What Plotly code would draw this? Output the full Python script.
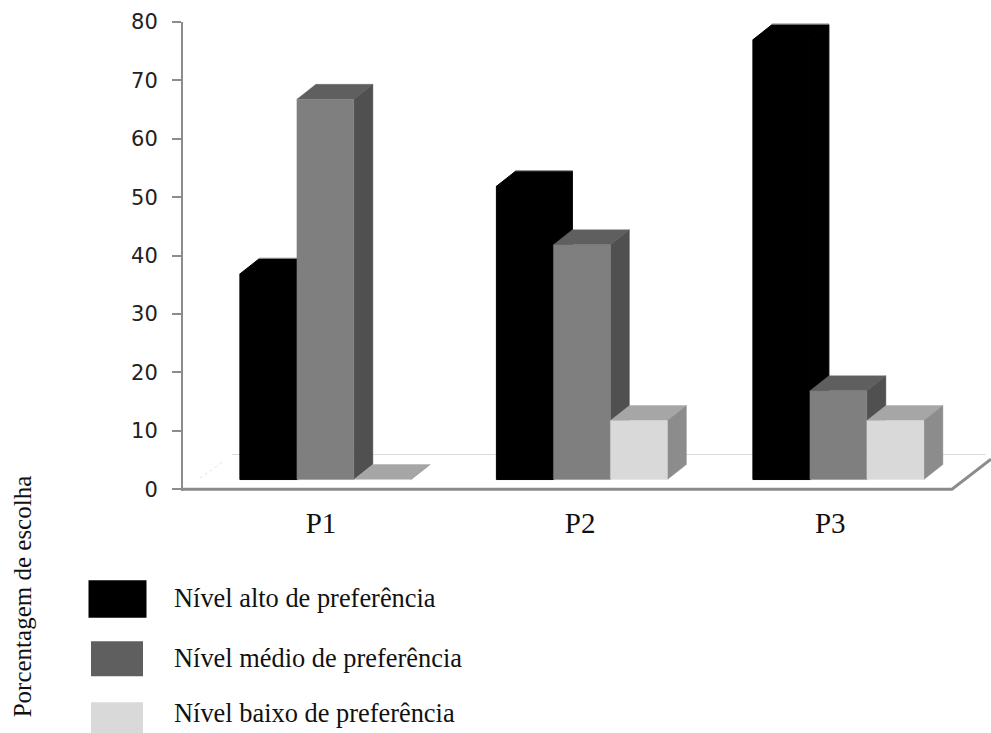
import plotly.graph_objects as go

# ---- data ----
categories = ["P1", "P2", "P3"]
series_names = ["Nível alto de preferência", "Nível médio de preferência", "Nível baixo de preferência"]
alto = [35.2, 50.2, 75.3]
medio = [65.1, 40.2, 15.2]
baixo = [0, 10.1, 10.1]
y_ticks = [0, 10, 20, 30, 40, 50, 60, 70, 80]
y_title = "Porcentagem de escolha"

# ---- styling / projection ----
W, H = 991, 733
PX_PER_UNIT = (489 - 22) / 80
Y_MIN = -0.3
L, R, T, B = 183, 991, 22, 489 - Y_MIN * PX_PER_UNIT     # plot area in page pixels
PX_PER_CAT = 256.5
CAT0_PX = 325.4
X_RANGE = [(L - CAT0_PX) / PX_PER_CAT, (R - CAT0_PX) / PX_PER_CAT]
BAR_W = 57 / PX_PER_CAT
DEPTH_X = 19 / PX_PER_CAT
DEPTH_Y = 15 / PX_PER_UNIT
FLOOR = 9.7 / PX_PER_UNIT
FLOOR_BACK = 34.7 / PX_PER_UNIT
faces = [
    {"front": "#000000", "top": "#000000", "side": "#000000"},
    {"front": "#7f7f7f", "top": "#5f5f5f", "side": "#505050"},
    {"front": "#d9d9d9", "top": "#a6a6a6", "side": "#8c8c8c"},
]
edge_widths = [1, 0.4, 0.4]
swatch_colors = ["#000000", "#5f5f5f", "#d9d9d9"]
SERIF = "Liberation Serif"


def poly(points):
    return [p[0] for p in points] + [None], [p[1] for p in points] + [None]


def face_trace(xs, ys, color, name, width):
    return go.Scatter(x=xs, y=ys, mode="lines", line=dict(width=width, color=color), fill="toself",
                      fillcolor=color, hoverinfo="skip", showlegend=False, name=name)


def px_x(p):
    return (p - L) / (R - L)


def px_y(p):
    return (B - p) / (B - T)


fig = go.Figure()

# floor edges
fig.add_trace(go.Scatter(x=[(232 - CAT0_PX) / PX_PER_CAT, (986 - CAT0_PX) / PX_PER_CAT], y=[FLOOR_BACK, FLOOR_BACK],
                         mode="lines", line=dict(color="#dcdcdc", width=1), hoverinfo="skip", showlegend=False))
fig.add_trace(go.Scatter(x=[(200 - CAT0_PX) / PX_PER_CAT, (222 - CAT0_PX) / PX_PER_CAT],
                         y=[(489 - 478) / PX_PER_UNIT, (489 - 462) / PX_PER_UNIT],
                         mode="lines", line=dict(color="#e4e4e4", width=1, dash="dot"), hoverinfo="skip", showlegend=False))
fig.add_trace(go.Scatter(x=[X_RANGE[0], (952 - CAT0_PX) / PX_PER_CAT, X_RANGE[1]], y=[0, 0, 30 / PX_PER_UNIT],
                         mode="lines", line=dict(color="#8c8c8c", width=3), hoverinfo="skip", showlegend=False))

# bars, left to right so each one overlaps the side of the previous one
for s, values in enumerate([alto, medio, baixo]):
    fx, fy, tx, ty, sx, sy = [], [], [], [], [], []
    for c, v in enumerate(values):
        x0 = c + (s - 1.5) * BAR_W
        x1 = x0 + BAR_W
        y0 = FLOOR
        y1 = FLOOR + v
        px, py = poly([(x0, y0), (x1, y0), (x1, y1), (x0, y1), (x0, y0)])
        fx += px; fy += py
        px, py = poly([(x0, y1), (x1, y1), (x1 + DEPTH_X, y1 + DEPTH_Y), (x0 + DEPTH_X, y1 + DEPTH_Y), (x0, y1)])
        tx += px; ty += py
        px, py = poly([(x1, y0), (x1 + DEPTH_X, y0 + DEPTH_Y), (x1 + DEPTH_X, y1 + DEPTH_Y), (x1, y1), (x1, y0)])
        sx += px; sy += py
    w = edge_widths[s]
    fig.add_trace(face_trace(tx, ty, faces[s]["top"], series_names[s], w))
    fig.add_trace(face_trace(sx, sy, faces[s]["side"], series_names[s], w))
    fig.add_trace(face_trace(fx, fy, faces[s]["front"], series_names[s], w))
    if s == 0:
        rx, ry = [], []
        for c, v in enumerate(values):
            x0 = c + (s - 1.5) * BAR_W
            rx += [x0 + DEPTH_X, x0 + BAR_W + DEPTH_X, None]
            ry += [FLOOR + v + DEPTH_Y + 0.1, FLOOR + v + DEPTH_Y + 0.1, None]
        fig.add_trace(go.Scatter(x=rx, y=ry, mode="lines", line=dict(color="#808080", width=1.2),
                                 hoverinfo="skip", showlegend=False))

# legend built by hand, as in the original
shapes = []
annotations = []
boxes = [(88.5, 146.5, 580, 617.5), (91, 143, 641, 676), (91, 143, 702, 733)]
label_y = [598, 658, 713]
for name, col, (x0, x1, y0, y1), ly in zip(series_names, swatch_colors, boxes, label_y):
    shapes.append(dict(type="rect", xref="paper", yref="paper", x0=px_x(x0), x1=px_x(x1), y0=px_y(y1), y1=px_y(y0),
                       fillcolor=col, line=dict(width=0), layer="above"))
    annotations.append(dict(text=name, xref="paper", yref="paper", x=px_x(172), y=px_y(ly), xanchor="left",
                            yanchor="middle", showarrow=False, font=dict(family=SERIF, size=26.4, color="#111111")))
annotations.append(dict(text=y_title, xref="paper", yref="paper", x=px_x(22), y=px_y(596), xanchor="center",
                        yanchor="middle", textangle=-90, showarrow=False,
                        font=dict(family=SERIF, size=25, color="#111111")))

fig.update_layout(
    width=W, height=H, autosize=False,
    margin=dict(l=L, r=W - R, t=T, b=H - B, pad=0),
    paper_bgcolor="white", plot_bgcolor="white",
    showlegend=False, shapes=shapes, annotations=annotations,
    xaxis=dict(range=X_RANGE, showgrid=False, zeroline=False, showline=False, ticks="",
               tickmode="array", tickvals=[-0.017, 0.993, 1.968], ticktext=categories,
               tickfont=dict(family=SERIF, size=29, color="#111111"), ticklabelstandoff=12),
    yaxis=dict(range=[Y_MIN, 80], showgrid=False, zeroline=False, showline=True, linecolor="#8c8c8c", linewidth=2,
               ticks="outside", ticklen=9, tickwidth=2, tickcolor="#8c8c8c", tickmode="array", tickvals=y_ticks,
               tickfont=dict(family="DejaVu Sans", size=21, color="#222222"), ticklabelstandoff=10),
)

fig.write_html("out.html", config={"displayModeBar": False},
               post_script="document.body.style.margin='0';document.body.style.overflow='hidden';")
